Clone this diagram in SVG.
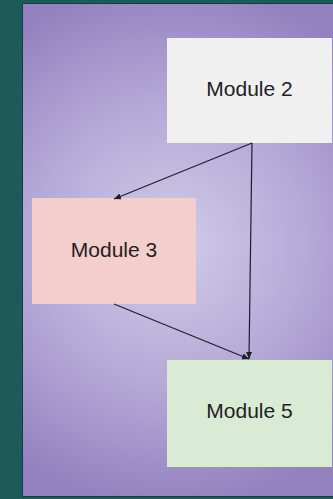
<svg xmlns="http://www.w3.org/2000/svg" width="333" height="499" viewBox="0 0 333 499">
  <defs>
    <radialGradient id="bg" cx="170" cy="245" r="260" gradientUnits="userSpaceOnUse">
      <stop offset="0" stop-color="#d2cce8"/>
      <stop offset="0.55" stop-color="#b4a8d6"/>
      <stop offset="1" stop-color="#9482c0"/>
    </radialGradient>
    <marker id="arr" markerWidth="8" markerHeight="8" refX="7" refY="4" orient="auto" markerUnits="userSpaceOnUse">
      <path d="M0,1 L7,4 L0,7 Z" fill="#1e1e2a"/>
    </marker>
    <style>
      .lbl { font-family: "Liberation Sans", Arial, sans-serif; font-size: 21px; fill: #222; text-anchor: middle; }
      .edge { stroke: #1e1e2a; stroke-width: 1.2; fill: none; marker-end: url(#arr); }
    </style>
  </defs>
  <rect x="0" y="0" width="333" height="499" fill="#1f5a5b"/>
  <rect x="22" y="3" width="311" height="494" fill="#173c45"/>
  <rect x="23" y="4" width="310" height="492" fill="url(#bg)"/>

  <g id="module2">
    <rect x="167" y="38" width="165" height="105" fill="#f0f0f1"/>
    <text class="lbl" x="249.5" y="96">Module 2</text>
  </g>
  <g id="module3">
    <rect x="32" y="198" width="164" height="106" fill="#f4cdcd"/>
    <text class="lbl" x="114" y="257">Module 3</text>
  </g>
  <g id="module5">
    <rect x="167" y="360" width="165" height="107" fill="#d9ebd4"/>
    <text class="lbl" x="249.5" y="418">Module 5</text>
  </g>

  <g id="connectors">
    <line class="edge" x1="252" y1="143" x2="114" y2="199"/>
    <line class="edge" x1="252" y1="143" x2="249" y2="359"/>
    <line class="edge" x1="114" y1="304" x2="249" y2="359"/>
  </g>
</svg>
